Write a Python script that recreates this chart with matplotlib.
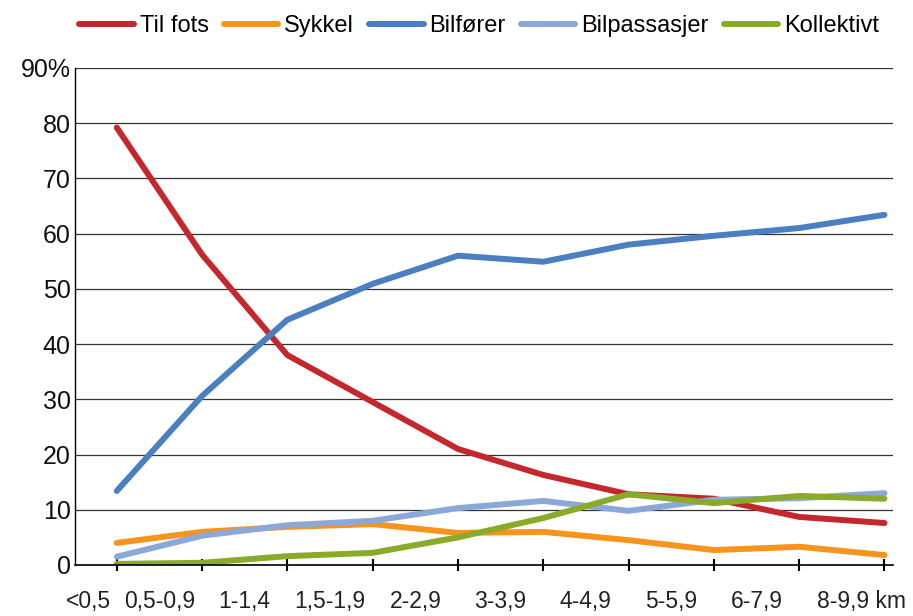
import matplotlib.pyplot as plt
import numpy as np

plt.rcParams["font.family"] = ["Liberation Sans", "DejaVu Sans"]

# distance classes (km)
categories = ["<0,5", "0,5-0,9", "1-1,4", "1,5-1,9", "2-2,9", "3-3,9",
              "4-4,9", "5-5,9", "6-7,9", "8-9,9 km"]

til_fots = [79.2, 56.2, 38.0, 29.5, 21.0, 16.3, 12.8, 12.0, 8.7, 7.6]
sykkel = [4.0, 6.0, 6.9, 7.4, 5.8, 6.0, 4.5, 2.7, 3.3, 1.8]
bilforer = [13.4, 30.6, 44.4, 50.9, 56.0, 54.9, 58.0, 59.6, 61.0, 63.4]
bilpassasjer = [1.5, 5.3, 7.2, 8.0, 10.3, 11.6, 9.8, 11.8, 12.1, 13.0]
kollektivt = [0.2, 0.4, 1.6, 2.2, 5.0, 8.5, 12.8, 11.2, 12.5, 12.0]

series = [
    ("Til fots", til_fots, "#c4282d"),
    ("Sykkel", sykkel, "#f7941d"),
    ("Bilfører", bilforer, "#4a7fc1"),
    ("Bilpassasjer", bilpassasjer, "#8aa8d8"),
    ("Kollektivt", kollektivt, "#8aaa2a"),
]

x = np.arange(len(categories))

fig = plt.figure(figsize=(9.13, 6.16), dpi=100)
ax = fig.add_axes([0.0821, 0.0828, 0.896, 0.807])

for name, values, color in series:
    ax.plot(x, values, color=color, lw=4.3, label=name, solid_capstyle="round")

ax.set_xlim(-0.49, 9.1)
ax.set_ylim(0, 90)
ax.set_yticks(range(0, 91, 10))
ax.set_yticklabels([str(v) for v in range(0, 90, 10)] + ["90%"])
ax.grid(axis="y", color="#333333", lw=0.9)
ax.set_axisbelow(True)
for side in ("top", "right"):
    ax.spines[side].set_visible(False)
ax.spines["left"].set_linewidth(1.0)
ax.spines["bottom"].set_linewidth(1.2)
ax.tick_params(axis="y", length=0, pad=3, labelsize=18, labelcolor="#111111")

# ticks at the points, labels centred between them
ax.set_xticks(x)
ax.set_xticklabels([])
ax.tick_params(axis="x", which="major", direction="inout", length=8, width=1.5)
label_pos = np.r_[-0.33, x[1:-1] - 0.5, 8.73]
ax.set_xticks(label_pos, minor=True)
ax.set_xticklabels(categories, minor=True)
ax.tick_params(axis="x", which="minor", length=0, pad=18, labelsize=16.5, labelcolor="#222222")

fig.legend(loc="upper center", bbox_to_anchor=(0.525, 1.01), ncol=5, frameon=False,
           handlelength=2.3, handletextpad=0.25, columnspacing=0.65,
           prop={"family": ["Liberation Sans"], "size": 17})

fig.savefig("out.png", dpi=100)
